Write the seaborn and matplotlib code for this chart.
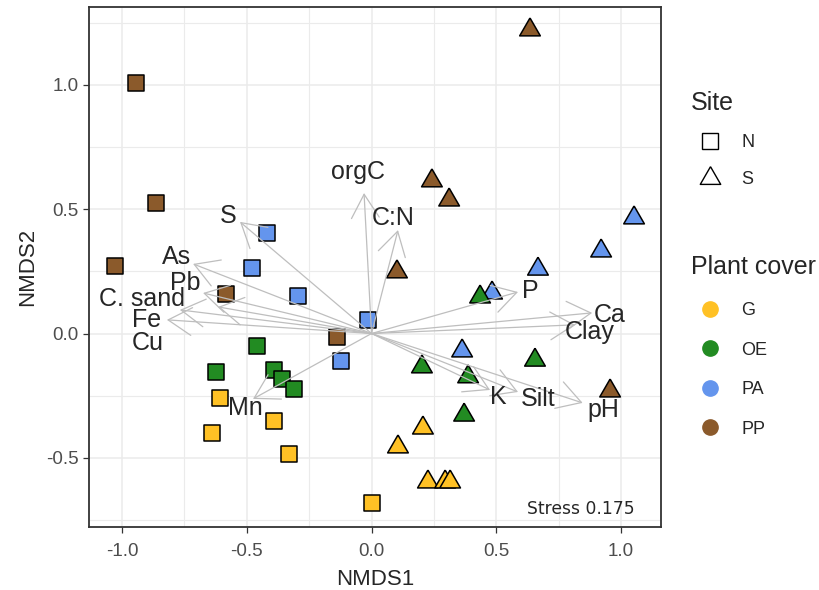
import matplotlib
matplotlib.use('agg')
import matplotlib.pyplot as plt
from matplotlib.lines import Line2D
import pandas as pd
import seaborn as sns

# ---- sample scores
site = ['N'] * 20 + ['S'] * 20
cover = (['PP'] * 5 + ['PA'] * 5 + ['OE'] * 5 + ['G'] * 5) * 2
nmds1 = [-0.944, -0.864, -1.028, -0.583, -0.138,
         -0.419, -0.479, -0.295, -0.014, -0.122,
         -0.459, -0.623, -0.391, -0.359, -0.311,
         -0.607, -0.639, -0.391, -0.331, 0.002,
         0.635, 0.242, 0.311, 0.102, 0.956,
         1.052, 0.920, 0.667, 0.483, 0.363,
         0.435, 0.655, 0.202, 0.387, 0.371,
         0.206, 0.106, 0.226, 0.295, 0.315]
nmds2 = [1.008, 0.525, 0.272, 0.160, -0.014,
         0.405, 0.264, 0.151, 0.055, -0.110,
         -0.050, -0.154, -0.146, -0.183, -0.223,
         -0.259, -0.400, -0.351, -0.484, -0.681,
         1.221, 0.614, 0.537, 0.248, -0.231,
         0.465, 0.332, 0.259, 0.163, -0.070,
         0.147, -0.107, -0.134, -0.174, -0.328,
         -0.380, -0.456, -0.597, -0.597, -0.597]

# ---- fitted environmental vectors
env_vars = ['orgC', 'C:N', 'S', 'As', 'Pb', 'C. sand', 'Fe', 'Cu', 'Mn',
            'P', 'Ca', 'Clay', 'K', 'Silt', 'pH']
env_x = [-0.030, 0.106, -0.527, -0.715, -0.675, -0.768, -0.820, -0.615, -0.475,
         0.587, 0.884, 0.816, 0.475, 0.587, 0.846]
env_y = [0.565, 0.416, 0.449, 0.280, 0.163, 0.095, 0.055, 0.107, -0.263,
         0.167, 0.083, 0.035, -0.227, -0.235, -0.279]
lab_x = [-0.054, 0.086, -0.575, -0.780, -0.748, -0.920, -0.900, -0.896, -0.507,
         0.635, 0.956, 0.876, 0.507, 0.667, 0.928]
lab_y = [0.650, 0.465, 0.473, 0.308, 0.203, 0.139, 0.055, -0.038, -0.299,
         0.171, 0.075, 0.006, -0.255, -0.263, -0.308]
stress = 0.175

cover_levels = ['G', 'OE', 'PA', 'PP']
palette = {'G': '#FFC125', 'OE': '#228B22', 'PA': '#6495ED', 'PP': '#8B5A2B'}
# equilateral triangle, closed path
tri = [(0, 1), (-0.866, -0.5), (0.866, -0.5), (0, 1)]

df = pd.DataFrame({'NMDS1': nmds1, 'NMDS2': nmds2, 'Site': site, 'Cover': cover})

sns.set_theme(style='white')
plt.rcParams['font.family'] = ['Liberation Sans', 'DejaVu Sans']
plt.rcParams['axes.unicode_minus'] = False

fig = plt.figure(figsize=(8.19, 5.9), dpi=100)
ax = fig.add_axes([0.1087, 0.1068, 0.6984, 0.8813])

sns.scatterplot(data=df[df.Site == 'N'], x='NMDS1', y='NMDS2', hue='Cover',
                palette=palette, marker='s', s=125, edgecolor='black',
                linewidth=1.1, legend=False, ax=ax, zorder=3)
sns.scatterplot(data=df[df.Site == 'S'], x='NMDS1', y='NMDS2', hue='Cover',
                palette=palette, marker=tri, s=295, edgecolor='black',
                linewidth=1.1, legend=False, ax=ax, zorder=3)

# arrows + labels
for ex, ey in zip(env_x, env_y):
    ax.annotate('', xy=(ex, ey), xytext=(0, 0), zorder=4,
                arrowprops=dict(arrowstyle='->,head_length=17,head_width=10',
                                mutation_scale=1, color='#BEBEBE', lw=0.9,
                                shrinkA=0, shrinkB=0))
for name, tx, ty in zip(env_vars, lab_x, lab_y):
    ax.text(tx, ty, name, fontsize=18, ha='center', va='center', zorder=5)

ax.text(1.056, -0.705, f'Stress {stress}', ha='right', va='center',
        fontsize=12.3, family='DejaVu Sans', zorder=5)

# axes look (theme_bw-ish)
ax.set_xlim(-1.132, 1.160)
ax.set_ylim(-0.778, 1.313)
ax.set_xticks([-1.0, -0.5, 0.0, 0.5, 1.0])
ax.set_yticks([-0.5, 0.0, 0.5, 1.0])
ax.set_xticks([-0.75, -0.25, 0.25, 0.75], minor=True)
ax.set_yticks([-0.75, -0.25, 0.25, 0.75, 1.25], minor=True)
ax.grid(which='major', color='#EBEBEB', lw=1.1)
ax.grid(which='minor', color='#EBEBEB', lw=0.8)
ax.set_axisbelow(True)
ax.tick_params(which='major', length=4.3, width=0.9, color='#333333',
               labelcolor='#4D4D4D', labelsize=13.5)
ax.tick_params(axis='x', pad=7)
ax.tick_params(axis='y', pad=3)
ax.tick_params(which='minor', length=0)
ax.tick_params(axis='x', bottom=True)
ax.tick_params(axis='y', left=True)
for sp in ax.spines.values():
    sp.set_color('#333333')
    sp.set_linewidth(1.3)
ax.set_xlabel('NMDS1', fontsize=16, labelpad=6.5)
ax.set_ylabel('NMDS2', fontsize=16, labelpad=6)

# legends
site_handles = [Line2D([], [], ls='none', marker='s', markersize=11, mfc='white',
                       mec='black', mew=1.0),
                Line2D([], [], ls='none', marker=tri, markersize=17, mfc='white',
                       mec='black', mew=1.0)]
fig.legend(site_handles, ['N', 'S'], title='Site', loc='upper left',
           bbox_to_anchor=(0.8437, 0.846), frameon=False, fontsize=13,
           title_fontsize=18, alignment='left', handlelength=2.1,
           handletextpad=0.67, labelspacing=1.08, borderpad=0, borderaxespad=0)

cover_handles = [Line2D([], [], ls='none', marker='o', markersize=11,
                        mfc=palette[c], mec=palette[c]) for c in cover_levels]
fig.legend(cover_handles, cover_levels, title='Plant cover', loc='upper left',
           bbox_to_anchor=(0.8437, 0.567), frameon=False, fontsize=13,
           title_fontsize=18, alignment='left', handlelength=2.1,
           handletextpad=0.67, labelspacing=1.25, borderpad=0, borderaxespad=0)

fig.savefig('out.png', dpi=100)
